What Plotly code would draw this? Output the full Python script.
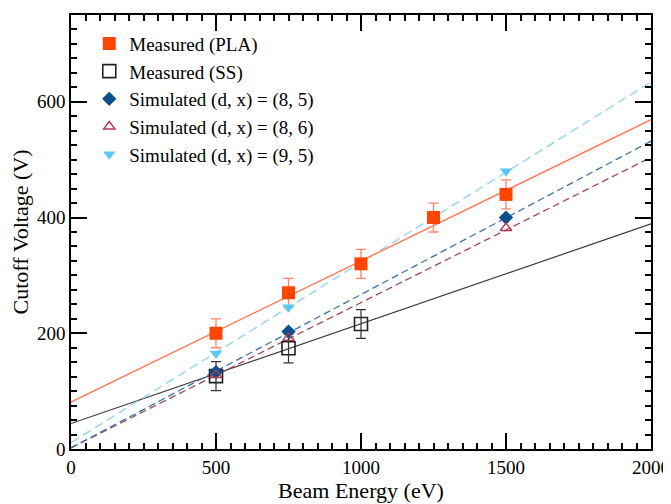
import plotly.graph_objects as go

# ---- data ----
energy_meas_pla = [500, 750, 1000, 1250, 1500]
voltage_pla = [200, 270, 320, 400, 440]
err_pla = [25, 25, 25, 25, 25]

energy_meas_ss = [500, 750, 1000]
voltage_ss = [126, 174, 216]
err_ss = [25, 25, 25]

energy_sim = [500, 750, 1500]
voltage_sim_85 = [133, 203, 400]
voltage_sim_86 = [128, 192, 382]
voltage_sim_95 = [165, 245, 480]

# fitted lines (values at x = 0 and x = 2000)
fit_x = [0, 2000]
fit_pla = [81, 569]
fit_ss = [44, 389]
fit_85 = [2, 532]
fit_86 = [2, 504]
fit_95 = [11, 634]

names = ["Measured (PLA)", "Measured (SS)", "Simulated (d, x) = (8, 5)",
         "Simulated (d, x) = (8, 6)", "Simulated (d, x) = (9, 5)"]

FONT = "Liberation Serif"

fig = go.Figure()

# fit lines (behind markers)
fig.add_trace(go.Scatter(x=fit_x, y=fit_ss, mode="lines", showlegend=False,
                         line=dict(color="#3a3a3a", width=1.2), hoverinfo="skip"))
fig.add_trace(go.Scatter(x=fit_x, y=fit_86, mode="lines", showlegend=False,
                         line=dict(color="#a8455a", width=1.3, dash="7px,4px"), hoverinfo="skip"))
fig.add_trace(go.Scatter(x=fit_x, y=fit_85, mode="lines", showlegend=False,
                         line=dict(color="#3f72a8", width=1.3, dash="7px,4px"), hoverinfo="skip"))
fig.add_trace(go.Scatter(x=fit_x, y=fit_95, mode="lines", showlegend=False,
                         line=dict(color="#9ad6f2", width=1.5, dash="9px,5px"), hoverinfo="skip"))
fig.add_trace(go.Scatter(x=fit_x, y=fit_pla, mode="lines", showlegend=False,
                         line=dict(color="#ff7a5a", width=1.4), hoverinfo="skip"))

# markers
fig.add_trace(go.Scatter(
    x=energy_meas_pla, y=voltage_pla, mode="markers", name=names[0],
    marker=dict(symbol="square", size=13, color="#ff4500"),
    error_y=dict(type="data", array=err_pla, color="#ff8466", thickness=1.3, width=5)))
fig.add_trace(go.Scatter(
    x=energy_meas_ss, y=voltage_ss, mode="markers", name=names[1],
    marker=dict(symbol="square-open", size=13, color="#222222", line=dict(width=1.6)),
    error_y=dict(type="data", array=err_ss, color="#333333", thickness=1.2, width=5)))
fig.add_trace(go.Scatter(
    x=energy_sim, y=voltage_sim_85, mode="markers", name=names[2],
    marker=dict(symbol="diamond", size=11, color="#0b4f8c")))
fig.add_trace(go.Scatter(
    x=energy_sim, y=voltage_sim_86, mode="markers", name=names[3],
    marker=dict(symbol="triangle-up-open", size=10, color="#b03a52", line=dict(width=1.4))))
fig.add_trace(go.Scatter(
    x=energy_sim, y=voltage_sim_95, mode="markers", name=names[4],
    marker=dict(symbol="triangle-down", size=11, color="#5bc8f5")))

axis_common = dict(
    showline=True, linecolor="black", linewidth=1.6, mirror="ticks",
    ticks="inside", ticklen=16, tickwidth=1.6, tickcolor="black",
    showgrid=False, zeroline=False, automargin=False,
    tickfont=dict(family=FONT, size=19, color="black"),
)

fig.update_xaxes(
    range=[0, 2000], dtick=500, tick0=0,
    minor=dict(dtick=50, ticklen=6, tickwidth=1.5, tickcolor="black", ticks="inside", showgrid=False),
    title=dict(text="Beam Energy (eV)", font=dict(family=FONT, size=22, color="black"), standoff=4),
    **axis_common)
fig.update_yaxes(
    range=[0, 750], dtick=200, tick0=0,
    minor=dict(dtick=25, ticklen=6, tickwidth=1.5, tickcolor="black", ticks="inside", showgrid=False),
    title=dict(text="Cutoff Voltage (V)", font=dict(family=FONT, size=22, color="black"), standoff=10),
    **axis_common)

# the page body adds an 8px offset, so the figure is sized to fit the window
fig.update_layout(
    width=663, height=496,
    margin=dict(l=63, r=20, t=7, b=55),
    paper_bgcolor="white", plot_bgcolor="white",
    font=dict(family=FONT, color="black"),
    legend=dict(x=0.0315, y=0.978, xanchor="left", yanchor="top",
                font=dict(family=FONT, size=19, color="black"),
                bgcolor="rgba(0,0,0,0)", tracegroupgap=0),
)

fig.write_html("out.html")
